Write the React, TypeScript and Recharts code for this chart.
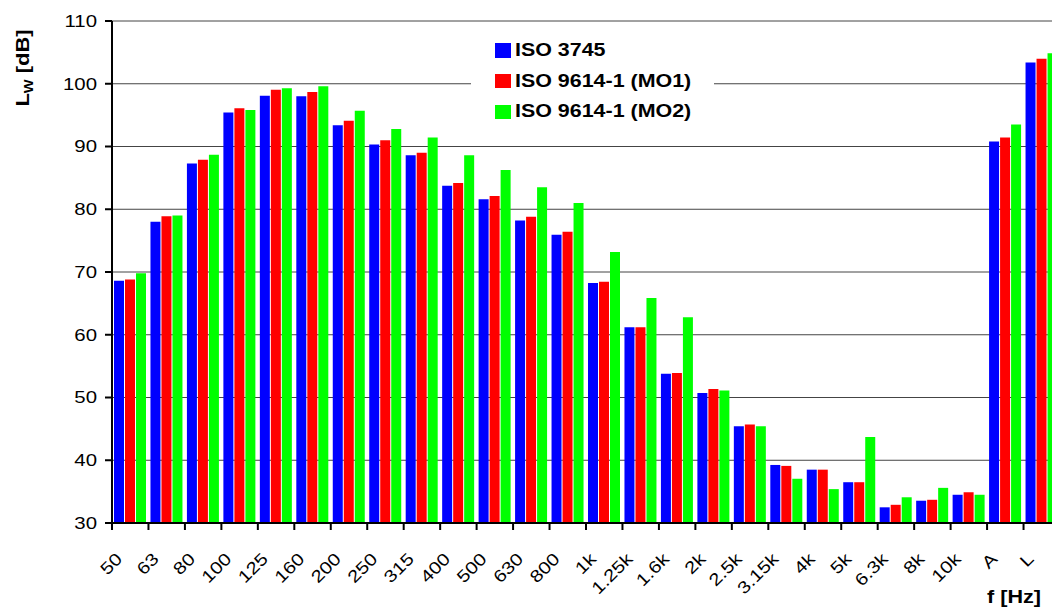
import React from 'react';
import { BarChart, Bar, XAxis, YAxis, CartesianGrid, Legend, Label } from 'recharts';

const bands = ['50', '63', '80', '100', '125', '160', '200', '250', '315', '400', '500', '630', '800', '1k', '1.25k', '1.6k', '2k', '2.5k', '3.15k', '4k', '5k', '6.3k', '8k', '10k', 'A', 'L'];
const iso3745 = [68.6, 78.0, 87.3, 95.4, 98.1, 98.0, 93.4, 90.3, 88.6, 83.75, 81.6, 78.2, 75.95, 68.25, 61.2, 53.8, 50.7, 45.4, 39.25, 38.5, 36.5, 32.5, 33.55, 34.5, 90.8, 103.4];
const iso9614mo1 = [68.8, 78.9, 87.9, 96.1, 99.05, 98.7, 94.1, 91.0, 89.0, 84.2, 82.1, 78.8, 76.4, 68.45, 61.2, 53.9, 51.35, 45.7, 39.1, 38.5, 36.5, 32.9, 33.7, 34.9, 91.45, 104.0];
const iso9614mo2 = [69.8, 79.0, 88.7, 95.8, 99.3, 99.6, 95.7, 92.8, 91.45, 88.6, 86.25, 83.5, 81.0, 73.2, 65.85, 62.8, 51.1, 45.4, 37.05, 35.4, 43.7, 34.1, 35.6, 34.5, 93.5, 104.85];
const yTicks = [30, 40, 50, 60, 70, 80, 90, 100, 110];

const series = [
  { key: 'a', name: 'ISO 3745', color: '#0000ff' },
  { key: 'b', name: 'ISO 9614-1 (MO1)', color: '#ff0000' },
  { key: 'c', name: 'ISO 9614-1 (MO2)', color: '#00ff00' },
];

const data = bands.map((f, i) => ({ f, a: iso3745[i], b: iso9614mo1[i], c: iso9614mo2[i] }));

const FONT = '"Liberation Sans", Arial, sans-serif';

const YTick = (props: any) => {
  const { x, y, payload } = props;
  return (
    <g transform={`translate(${x},${y})`}>
      <text x={0} y={0} dy="0.35em" textAnchor="end" transform="scale(1.2,1)" fontSize={17} fontFamily={FONT} fill="#000">
        {payload.value}
      </text>
    </g>
  );
};

const XTick = (props: any) => {
  const { x, y, payload } = props;
  const half = payload.offset || 18.23;
  return (
    <g>
      <line x1={x - half} x2={x - half} y1={y} y2={y + 7} stroke="#000" strokeWidth={2} />
      <text
        transform={`translate(${x - 7},${y + 37}) rotate(-45) scale(1.2,1)`}
        textAnchor="end"
        fontSize={17}
        fontFamily={FONT}
        fill="#000"
      >
        {payload.value}
      </text>
    </g>
  );
};

const LegendBox = () => (
  <div style={{ position: 'relative', width: 243, height: 98, background: '#fff' }}>
    {series.map((s, i) => (
      <div key={s.key} style={{ position: 'absolute', left: 24, top: 10 + i * 30.7, height: 15, display: 'flex', alignItems: 'center' }}>
        <div style={{ width: 15.5, height: 14.5, background: s.color }} />
        <span
          style={{
            marginLeft: 4.5,
            fontFamily: FONT,
            fontWeight: 'bold',
            fontSize: 18,
            lineHeight: '15px',
            whiteSpace: 'nowrap',
            transform: 'scaleX(1.19)',
            transformOrigin: 'left center',
            color: '#000',
          }}
        >
          {s.name}
        </span>
      </div>
    ))}
  </div>
);

export default function App() {
  return (
    <div style={{ position: 'fixed', left: 0, top: 0, width: 1052, height: 616, overflow: 'hidden', background: '#fff' }}>
      <BarChart
        width={1068}
        height={616}
        data={data}
        margin={{ top: 21, right: 8, left: 0, bottom: 33 }}
        barGap={1}
        barCategoryGap={2}
      >
        <CartesianGrid vertical={false} stroke="#444" strokeWidth={1} />
        <XAxis
          dataKey="f"
          height={60}
          interval={0}
          tickSize={0}
          tickMargin={0}
          tickLine={false}
          axisLine={{ stroke: '#000', strokeWidth: 2 }}
          tick={<XTick />}
        >
          <Label
            content={() => (
              <text transform="translate(987,603) scale(1.2,1)" fontSize={18} fontWeight="bold" fontFamily={FONT} fill="#000">
                f [Hz]
              </text>
            )}
          />
        </XAxis>
        <YAxis
          width={112}
          domain={[30, 110]}
          ticks={yTicks}
          allowDataOverflow
          interval={0}
          tickSize={7}
          tickMargin={8}
          tickLine={{ stroke: '#000', strokeWidth: 2 }}
          axisLine={{ stroke: '#000', strokeWidth: 2 }}
          tick={<YTick />}
        >
          <Label
            content={() => (
              <text
                transform="translate(29,68) rotate(-90) scale(1.22,1)"
                textAnchor="middle"
                fontSize={18}
                fontWeight="bold"
                fontFamily={FONT}
                fill="#000"
              >
                <tspan>L</tspan>
                <tspan fontSize={12} dy={4}>W</tspan>
                <tspan dy={-4}> [dB]</tspan>
              </text>
            )}
          />
        </YAxis>
        <Legend
          layout="vertical"
          align="center"
          verticalAlign="middle"
          content={<LegendBox />}
          wrapperStyle={{ left: 471, top: 33, width: 243, height: 98 }}
        />
        {series.map((s) => (
          <Bar key={s.key} dataKey={s.key} name={s.name} fill={s.color} isAnimationActive={false} />
        ))}
      </BarChart>
    </div>
  );
}
